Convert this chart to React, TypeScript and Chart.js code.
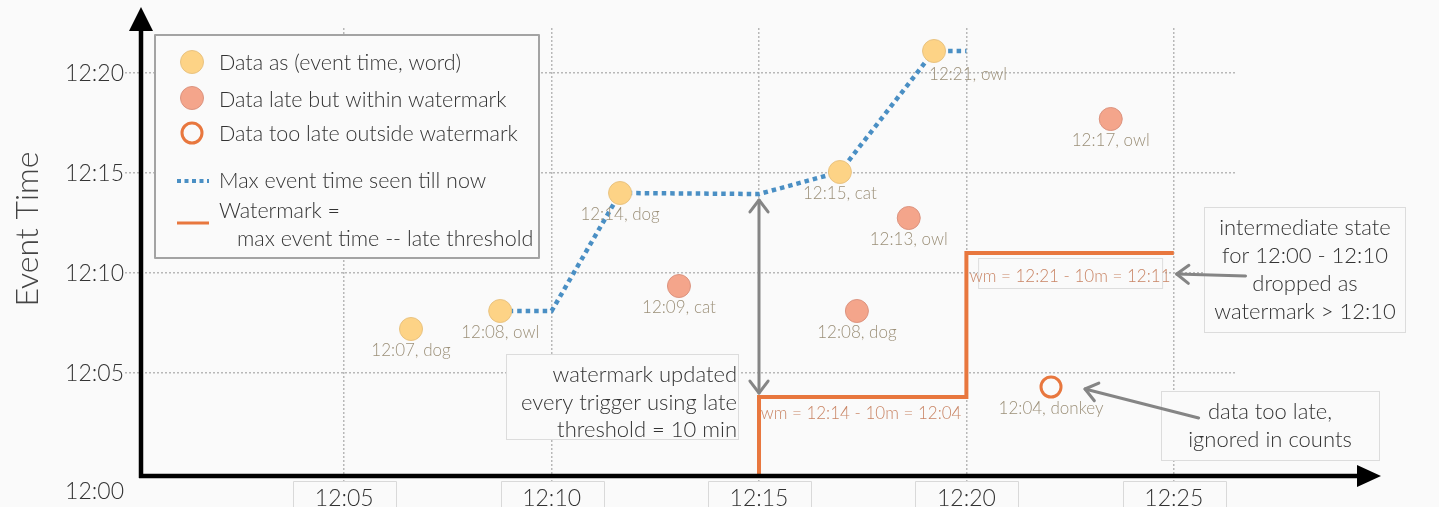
import React, { useEffect, useRef } from "react";
import { Chart, registerables } from "chart.js";
Chart.register(...registerables);

// All values are minutes after 12:00
const X_MIN = 0.1;
const X_MAX = 26.5;
const Y_MIN = -0.15;
const Y_MAX = 22.25;

const X_TICKS = [5, 10, 15, 20, 25];
const X_TICK_LABELS = ["12:05", "12:10", "12:15", "12:20", "12:25"];
const Y_TICKS = [0, 5, 10, 15, 20];
const Y_TICK_LABELS = ["12:00", "12:05", "12:10", "12:15", "12:20"];

// processing time (x) vs event time (y)
const ON_TIME_X = [6.61, 8.76, 11.65, 16.95, 19.22];
const ON_TIME_Y = [7.2, 8.1, 14.0, 15.05, 21.1];
const ON_TIME_LABELS = ["12:07, dog", "12:08, owl", "12:14, dog", "12:15, cat", "12:21, owl"];

const LATE_X = [13.07, 17.36, 18.61, 23.48];
const LATE_Y = [9.35, 8.1, 12.75, 17.7];
const LATE_LABELS = ["12:09, cat", "12:08, dog", "12:13, owl", "12:17, owl"];

const TOO_LATE_X = [22.04];
const TOO_LATE_Y = [4.3];
const TOO_LATE_LABELS = ["12:04, donkey"];

const MAX_SEEN_X = [8.76, 10, 11.65, 15, 16.95, 19.22, 20];
const MAX_SEEN_Y = [8.1, 8.1, 14.0, 13.95, 15.05, 21.1, 21.1];

const WATERMARK_X = [15, 15, 20, 20, 25];
const WATERMARK_Y = [-0.15, 3.8, 3.8, 11.0, 11.0];

const LEGEND_LABELS = [
  "Data as (event time, word)",
  "Data late but within watermark",
  "Data too late outside watermark",
  "Max event time seen till now",
  "Watermark =",
  "max event time -- late threshold",
];

const WM_LABEL_1 = "wm = 12:14 - 10m = 12:04";
const WM_LABEL_2 = "wm = 12:21 - 10m = 12:11";
const NOTE_1 = ["watermark updated", "every trigger using late", "threshold = 10 min"];
const NOTE_2 = ["intermediate state", "for 12:00 - 12:10", "dropped as", "watermark > 12:10"];
const NOTE_3 = ["data too late,", "ignored in counts"];

const FONT = '"Lato", "Open Sans", "DejaVu Sans", sans-serif';
const YELLOW = "#fdd386";
const YELLOW_B = "#e9c381";
const SALMON = "#f4a58b";
const SALMON_B = "#dc9480";
const ORANGE = "#e8773e";
const BLUE = "#4a8fc4";
const GRID = "#b8b8b8";
const BG = "#fafafa";
const LABEL_C = "#9c9079";
const WM_C = "#c98565";

const toPts = (xs: number[], ys: number[]) => xs.map((x, i) => ({ x, y: ys[i] }));

function chevron(ctx: CanvasRenderingContext2D, tx: number, ty: number, fx: number, fy: number, size: number) {
  const a = Math.atan2(ty - fy, tx - fx);
  ctx.beginPath();
  ctx.moveTo(tx - size * Math.cos(a - 0.65), ty - size * Math.sin(a - 0.65));
  ctx.lineTo(tx, ty);
  ctx.lineTo(tx - size * Math.cos(a + 0.65), ty - size * Math.sin(a + 0.65));
  ctx.stroke();
}

function box(ctx: CanvasRenderingContext2D, x: number, y: number, w: number, h: number, stroke: string | null) {
  ctx.fillStyle = BG;
  ctx.fillRect(x, y, w, h);
  if (stroke) {
    ctx.strokeStyle = stroke;
    ctx.lineWidth = 1;
    ctx.strokeRect(x + 0.5, y + 0.5, w - 1, h - 1);
  }
}

const overlay = {
  id: "overlay",
  beforeDraw(chart: any) {
    const ctx = chart.ctx;
    ctx.save();
    ctx.fillStyle = BG;
    ctx.fillRect(0, 0, chart.width, chart.height);
    ctx.restore();
  },
  afterDatasetsDraw(chart: any) {
    const ctx: CanvasRenderingContext2D = chart.ctx;
    const xs = chart.scales.x;
    const ys = chart.scales.y;
    const X = (v: number) => xs.getPixelForValue(v);
    const Y = (v: number) => ys.getPixelForValue(v);
    const area = chart.chartArea;
    ctx.save();

    // point labels
    ctx.font = `300 17px ${FONT}`;
    ctx.fillStyle = LABEL_C;
    ctx.textAlign = "center";
    ctx.textBaseline = "middle";
    const labelSets = [ON_TIME_LABELS, LATE_LABELS, TOO_LATE_LABELS];
    labelSets.forEach((labels, di) => {
      const meta = chart.getDatasetMeta(di);
      labels.forEach((t, i) => {
        const el = meta.data[i];
        const shifted = di === 0 && i === 4;
        ctx.fillText(t, el.x + (shifted ? 34 : 0), el.y + (shifted ? 24 : 22));
      });
    });

    // watermark labels
    ctx.font = `300 17px ${FONT}`;
    ctx.fillStyle = WM_C;
    ctx.fillText(WM_LABEL_1, X(17.46), Y(2.95));
    const w2x = X(22.5), w2y = Y(9.8);
    box(ctx, w2x - 92, w2y - 19, 185, 31, "#dddddd");
    ctx.fillStyle = WM_C;
    ctx.fillText(WM_LABEL_2, w2x, w2y);

    // notes
    ctx.font = `300 22px ${FONT}`;
    ctx.fillStyle = "#333333";
    box(ctx, 506, 354, 233, 86, "#dcdcdc");
    ctx.fillStyle = "#333333";
    ctx.textAlign = "right";
    NOTE_1.forEach((t, i) => ctx.fillText(t, 737, 375 + i * 27.5));
    box(ctx, 1204, 207, 202, 126, "#dcdcdc");
    ctx.fillStyle = "#333333";
    ctx.textAlign = "center";
    NOTE_2.forEach((t, i) => ctx.fillText(t, 1305, 228 + i * 28));
    box(ctx, 1161, 391, 219, 70, "#dcdcdc");
    ctx.fillStyle = "#333333";
    NOTE_3.forEach((t, i) => ctx.fillText(t, 1270, 412 + i * 28));

    // gray arrows
    ctx.strokeStyle = "#858585";
    ctx.lineWidth = 3;
    ctx.lineCap = "round";
    ctx.lineJoin = "round";
    const ax = X(15), at = Y(13.65), ab = Y(4.0);
    ctx.beginPath();
    ctx.moveTo(ax, at);
    ctx.lineTo(ax, ab);
    ctx.stroke();
    chevron(ctx, ax, at, ax, ab, 15);
    chevron(ctx, ax, ab, ax, at, 15);
    const a2f = [X(26.73), Y(9.85)], a2t = [X(25.07), Y(9.95)];
    ctx.beginPath();
    ctx.moveTo(a2f[0], a2f[1]);
    ctx.lineTo(a2t[0], a2t[1]);
    ctx.stroke();
    chevron(ctx, a2t[0], a2t[1], a2f[0], a2f[1], 15);
    const a3f = [X(25.6), Y(2.75)], a3t = [X(22.86), Y(4.2)];
    ctx.beginPath();
    ctx.moveTo(a3f[0], a3f[1]);
    ctx.lineTo(a3t[0], a3t[1]);
    ctx.stroke();
    chevron(ctx, a3t[0], a3t[1], a3f[0], a3f[1], 15);

    // legend
    ctx.lineCap = "butt";
    box(ctx, 154, 34, 386, 225, null);
    ctx.strokeStyle = "#a3a3a3";
    ctx.lineWidth = 2;
    ctx.strokeRect(155, 35, 384, 223);
    const lx = 192;
    ctx.lineWidth = 1;
    ctx.fillStyle = YELLOW; ctx.strokeStyle = YELLOW_B;
    ctx.beginPath(); ctx.arc(lx, 62, 11.5, 0, Math.PI * 2); ctx.fill(); ctx.stroke();
    ctx.fillStyle = SALMON; ctx.strokeStyle = SALMON_B;
    ctx.beginPath(); ctx.arc(lx, 98, 11.5, 0, Math.PI * 2); ctx.fill(); ctx.stroke();
    ctx.fillStyle = BG; ctx.strokeStyle = ORANGE; ctx.lineWidth = 3;
    ctx.beginPath(); ctx.arc(lx, 133, 10, 0, Math.PI * 2); ctx.fill(); ctx.stroke();
    ctx.strokeStyle = BLUE; ctx.lineWidth = 4; ctx.setLineDash([4, 3.5]);
    ctx.beginPath(); ctx.moveTo(177, 181); ctx.lineTo(209, 181); ctx.stroke();
    ctx.setLineDash([]);
    ctx.strokeStyle = ORANGE; ctx.lineWidth = 3;
    ctx.beginPath(); ctx.moveTo(177, 223); ctx.lineTo(209, 223); ctx.stroke();
    ctx.font = `300 21.5px ${FONT}`;
    ctx.fillStyle = "#333333";
    ctx.textAlign = "left";
    ctx.textBaseline = "middle";
    const ly = [63, 100, 134, 181, 211];
    ly.forEach((yy, i) => ctx.fillText(LEGEND_LABELS[i], 219, yy));
    ctx.fillText(LEGEND_LABELS[5], 237, 239);

    // axes with arrows
    ctx.fillStyle = "#000";
    ctx.strokeStyle = "#000";
    ctx.lineWidth = 4.5;
    ctx.beginPath();
    ctx.moveTo(area.left, area.bottom + 2);
    ctx.lineTo(area.left, 29);
    ctx.stroke();
    ctx.beginPath();
    ctx.moveTo(area.left, 7); ctx.lineTo(area.left - 12, 31); ctx.lineTo(area.left + 12, 31); ctx.closePath(); ctx.fill();
    ctx.beginPath();
    ctx.moveTo(area.left - 2, area.bottom);
    ctx.lineTo(1358, area.bottom);
    ctx.stroke();
    ctx.beginPath();
    ctx.moveTo(1381, area.bottom); ctx.lineTo(1357, area.bottom - 11); ctx.lineTo(1357, area.bottom + 11); ctx.closePath(); ctx.fill();

    // x tick labels in boxes
    ctx.font = `300 23px ${FONT}`;
    ctx.textAlign = "center";
    ctx.textBaseline = "alphabetic";
    X_TICKS.forEach((v, i) => {
      const cx = X(v);
      ctx.strokeStyle = "#d9d9d9";
      ctx.lineWidth = 1;
      ctx.strokeRect(Math.round(cx - 51) + 0.5, 481.5, 103, 40);
      ctx.fillStyle = "#333333";
      ctx.fillText(X_TICK_LABELS[i], cx, 506);
    });

    // y tick labels
    ctx.textAlign = "right";
    ctx.textBaseline = "middle";
    ctx.fillStyle = "#333333";
    Y_TICKS.forEach((v, i) => {
      const yy = Y(v) + (v === 0 ? 19 : 1);
      ctx.fillText(Y_TICK_LABELS[i], 124, yy);
    });

    // y title
    ctx.save();
    ctx.translate(28, 229);
    ctx.rotate(-Math.PI / 2);
    ctx.font = `300 32px ${FONT}`;
    ctx.fillStyle = "#444444";
    ctx.textAlign = "center";
    ctx.fillText("Event Time", 0, 0);
    ctx.restore();

    ctx.restore();
  },
};

export default function App() {
  const ref = useRef<HTMLCanvasElement>(null);
  useEffect(() => {
    const gridColor = (c: any) => (c.tick && c.tick.value === 0 ? "rgba(0,0,0,0)" : GRID);
    const chart = new Chart(ref.current as HTMLCanvasElement, {
      type: "scatter",
      data: {
        datasets: [
          {
            label: "on time",
            data: toPts(ON_TIME_X, ON_TIME_Y),
            pointRadius: 11.5,
            backgroundColor: YELLOW,
            borderColor: YELLOW_B,
            borderWidth: 1,
          },
          {
            label: "late",
            data: toPts(LATE_X, LATE_Y),
            pointRadius: 11.5,
            backgroundColor: SALMON,
            borderColor: SALMON_B,
            borderWidth: 1,
          },
          {
            label: "too late",
            data: toPts(TOO_LATE_X, TOO_LATE_Y),
            pointRadius: 10,
            backgroundColor: BG,
            borderColor: ORANGE,
            borderWidth: 3,
          },
          {
            label: "max seen",
            data: toPts(MAX_SEEN_X, MAX_SEEN_Y),
            showLine: true,
            pointRadius: 0,
            borderColor: BLUE,
            borderWidth: 4.5,
            borderDash: [4.5, 4],
            borderCapStyle: "butt",
            tension: 0,
          } as any,
          {
            label: "watermark",
            data: toPts(WATERMARK_X, WATERMARK_Y),
            showLine: true,
            pointRadius: 0,
            borderColor: ORANGE,
            borderWidth: 4,
            borderJoinStyle: "miter",
            tension: 0,
          } as any,
        ],
      },
      options: {
        animation: false,
        responsive: false,
        devicePixelRatio: 1,
        events: [],
        layout: { autoPadding: false, padding: { left: 0, top: 28, right: 203, bottom: 0 } },
        plugins: { legend: { display: false }, tooltip: { enabled: false } },
        scales: {
          x: {
            type: "linear",
            min: X_MIN,
            max: X_MAX,
            afterBuildTicks: (s: any) => {
              s.ticks = X_TICKS.map((v) => ({ value: v }));
            },
            afterFit: (s: any) => {
              s.height = 31;
            },
            ticks: { display: false },
            grid: { color: gridColor, lineWidth: 1.5, tickLength: 8, tickColor: gridColor, tickBorderDash: [2, 2] },
            border: { display: false, dash: [2, 2] },
          },
          y: {
            type: "linear",
            min: Y_MIN,
            max: Y_MAX,
            afterBuildTicks: (s: any) => {
              s.ticks = Y_TICKS.map((v) => ({ value: v }));
            },
            afterFit: (s: any) => {
              s.width = 141;
            },
            ticks: { display: false },
            grid: { color: gridColor, lineWidth: 1.5, tickLength: 16, tickColor: gridColor, tickBorderDash: [2, 2] },
            border: { display: false, dash: [2, 2] },
          },
        },
      } as any,
      plugins: [overlay],
    });
    return () => chart.destroy();
  }, []);
  return (
    <div style={{ position: "fixed", left: 0, top: 0, width: 1439, height: 507, background: BG }}>
      <canvas ref={ref} width={1439} height={507} style={{ display: "block", width: 1439, height: 507 }} />
    </div>
  );
}
